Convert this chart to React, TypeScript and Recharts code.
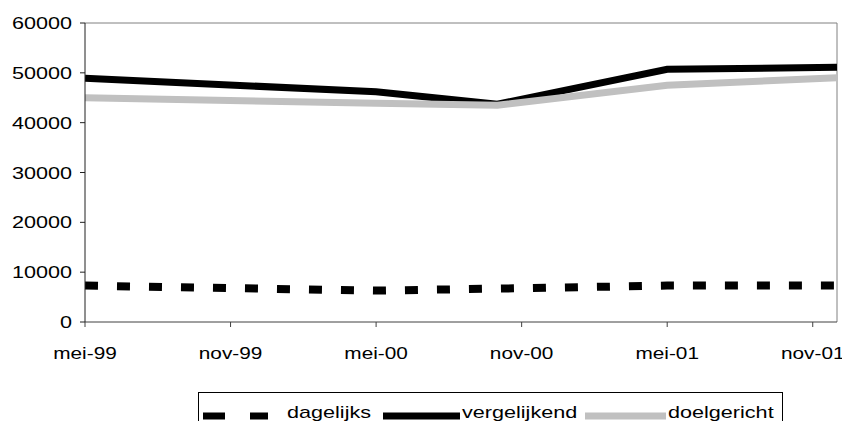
import React from "react";
import {
  LineChart,
  Line,
  XAxis,
  YAxis,
  ReferenceLine,
} from "recharts";

// months counted from mei-99 (date axis)
const months = [0, 12, 17, 24, 31];
const dagelijks = [7300, 6300, 6700, 7300, 7300];
const vergelijkend = [48900, 46200, 43700, 50700, 51100];
const doelgericht = [45000, 43900, 43500, 47500, 49000];

const xTicks = [0, 6, 12, 18, 24, 30];
const xTickLabels = ["mei-99", "nov-99", "mei-00", "nov-00", "mei-01", "nov-01"];
const yTicks = [0, 10000, 20000, 30000, 40000, 50000, 60000];

const seriesNames = ["dagelijks", "vergelijkend", "doelgericht"];

const data = months.map((m, i) => ({
  month: m,
  dagelijks: dagelijks[i],
  vergelijkend: vergelijkend[i],
  doelgericht: doelgericht[i],
}));

const FONT = "'Liberation Sans', Arial, sans-serif";
const STRETCH = 1.35;

function YTick(props: any) {
  const { x, y, payload } = props;
  return (
    <g transform={`translate(${x},${y})`}>
      <text
        x={0}
        y={0}
        dy={6}
        textAnchor="end"
        transform={`scale(${STRETCH},1)`}
        fill="#000"
        fontSize={16}
        fontFamily={FONT}
      >
        {payload.value}
      </text>
    </g>
  );
}

function XTick(props: any) {
  const { x, y, payload } = props;
  const idx = xTicks.indexOf(payload.value);
  return (
    <g transform={`translate(${x},${y})`}>
      <text
        x={0}
        y={0}
        dy={30}
        textAnchor="middle"
        transform={`scale(1.3,1)`}
        fill="#000"
        fontSize={16}
        fontFamily={FONT}
      >
        {idx >= 0 ? xTickLabels[idx] : ""}
      </text>
    </g>
  );
}

function LegendBox() {
  const textStyle = {
    fontSize: 16,
    fontFamily: FONT,
    fill: "#000",
  };
  return (
    <svg
      width={842}
      height={421}
      style={{ position: "absolute", left: 0, top: 0, pointerEvents: "none" }}
    >
      <rect x={198.5} y={392.5} width={584} height={40} fill="#fff" stroke="#000" />
      <line x1={203} x2={268} y1={416} y2={416} stroke="#000" strokeWidth={7} strokeDasharray="22 25" />
      <g transform={`translate(287,418)`}>
        <text transform={`scale(${STRETCH},1)`} {...textStyle}>{seriesNames[0]}</text>
      </g>
      <line x1={383} x2={460} y1={416} y2={416} stroke="#000" strokeWidth={7} />
      <g transform={`translate(462,418)`}>
        <text transform={`scale(${STRETCH},1)`} {...textStyle}>{seriesNames[1]}</text>
      </g>
      <line x1={585} x2={666} y1={416} y2={416} stroke="#c0c0c0" strokeWidth={7} />
      <g transform={`translate(668,418)`}>
        <text transform={`scale(${STRETCH},1)`} {...textStyle}>{seriesNames[2]}</text>
      </g>
    </svg>
  );
}

export default function App() {
  return (
    <div style={{ position: "absolute", left: 0, top: 0, width: 842, height: 421, background: "#fff" }}>
      <LineChart
        width={842}
        height={421}
        data={data}
        margin={{ top: 23, right: 5, left: 25, bottom: 69 }}
      >
        <XAxis
          dataKey="month"
          type="number"
          domain={[0, 31]}
          ticks={xTicks}
          height={30}
          tickSize={5}
          stroke="#404040"
          tick={<XTick />}
          interval={0}
          allowDataOverflow
        />
        <YAxis
          type="number"
          domain={[0, 60000]}
          ticks={yTicks}
          width={60}
          tickSize={5}
          tickMargin={8}
          stroke="#202020"
          tick={<YTick />}
          interval={0}
        />
        <ReferenceLine y={60000} stroke="#808080" strokeWidth={1} />
        <ReferenceLine x={31} stroke="#808080" strokeWidth={1} />
        <Line
          dataKey="dagelijks"
          type="linear"
          stroke="#000"
          strokeWidth={8}
          strokeDasharray="13 19"
          dot={false}
          isAnimationActive={false}
        />
        <Line
          dataKey="vergelijkend"
          type="linear"
          stroke="#000"
          strokeWidth={7}
          dot={false}
          isAnimationActive={false}
        />
        <Line
          dataKey="doelgericht"
          type="linear"
          stroke="#c0c0c0"
          strokeWidth={7}
          dot={false}
          isAnimationActive={false}
        />
      </LineChart>
      <LegendBox />
    </div>
  );
}
